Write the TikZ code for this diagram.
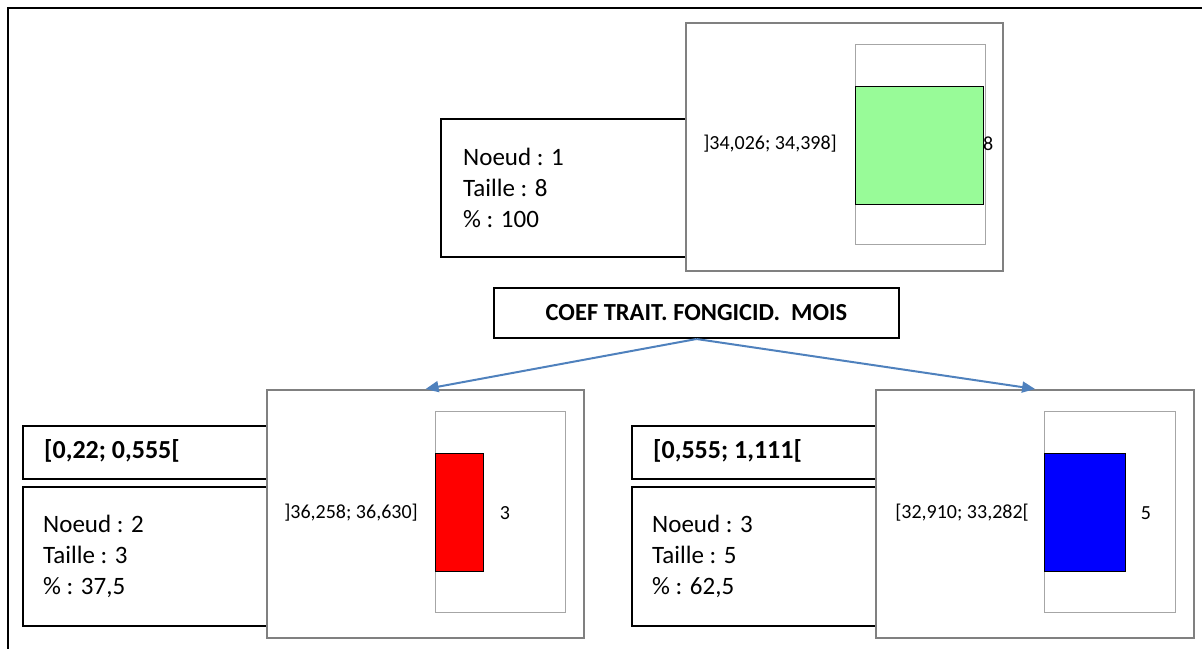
\documentclass[tikz,border=0pt]{standalone}
\usepackage{fontspec}
\setmainfont{Carlito}
\usetikzlibrary{arrows.meta}
\definecolor{arrblue}{RGB}{79,129,189}
\definecolor{framegray}{RGB}{128,128,128}
\definecolor{innergray}{RGB}{166,166,166}
\definecolor{lgreen}{RGB}{152,251,152}
\tikzset{
  infobox/.style={draw=black, line width=2pt, fill=white, anchor=north west, inner sep=0pt},
  chartbox/.style={draw=framegray, line width=2.2pt, fill=white, anchor=north west, inner sep=0pt},
  innerbox/.style={draw=innergray, line width=1pt, fill=white, anchor=north west, inner sep=0pt},
  bar/.style={draw=black, line width=0.8pt, anchor=north west, inner sep=0pt},
  infotext/.style={anchor=west, inner sep=0pt, align=left, font=\fontsize{25}{31}\selectfont},
  headtext/.style={anchor=west, inner sep=0pt, font=\bfseries\fontsize{26}{30}\selectfont},
  smalltext/.style={inner sep=0pt, font=\fontsize{20}{24}\selectfont},
  arr/.style={draw=arrblue, line width=2pt, -{Triangle[length=13pt,width=11pt]}}
}
\begin{document}
\begin{tikzpicture}[x=1pt,y=-1pt]
\useasboundingbox (0,0) rectangle (1202,648);
% outer frame
\draw[line width=2.5pt] (8,660) -- (8,8) -- (1215,8);
% ---------- node 1
\node[infobox, minimum width=260pt, minimum height=138pt] (i1) at (440,118) {};
\node[infotext] (t1) at (463,188) {Noeud : 1\\Taille : 8\\\% : 100};
\node[chartbox, minimum width=317pt, minimum height=248pt] (c1) at (685,22) {};
\node[innerbox, minimum width=130pt, minimum height=200pt] (f1) at (855,44) {};
\node[bar, fill=lgreen, minimum width=128pt, minimum height=118pt] (b1) at (855,86) {};
\node[smalltext] (l1) at (770,144) {]34,026; 34,398]};
\node[smalltext, anchor=west] (v1) at (983,144) {8};
% ---------- split variable
\node[draw=black, line width=2pt, fill=white, minimum width=405pt, minimum height=50pt, inner sep=0pt,
      font=\bfseries\fontsize{24.5}{28}\selectfont] (coef) at (696.5,313) {COEF TRAIT. FONGICID.\ \ MOIS};
% ---------- node 2
\node[infobox, minimum width=260pt, minimum height=53pt] (h2) at (22,425) {};
\node[headtext] (ht2) at (44,451) {[0,22; 0,555[};
\node[infobox, minimum width=260pt, minimum height=139pt] (i2) at (22,486) {};
\node[infotext] (t2) at (43,556) {Noeud : 2\\Taille : 3\\\% : 37,5};
\node[chartbox, minimum width=317pt, minimum height=248pt] (c2) at (266,389) {};
\node[innerbox, minimum width=130pt, minimum height=201pt] (f2) at (435,411) {};
\node[bar, fill=red, minimum width=48pt, minimum height=118pt] (b2) at (435,453) {};
\node[smalltext] (l2) at (351,513) {]36,258; 36,630]};
\node[smalltext] (v2) at (505,513) {3};
% ---------- node 3
\node[infobox, minimum width=260pt, minimum height=53pt] (h3) at (631,425) {};
\node[headtext] (ht3) at (653,451) {[0,555; 1,111[};
\node[infobox, minimum width=260pt, minimum height=139pt] (i3) at (631,486) {};
\node[infotext] (t3) at (652,556) {Noeud : 3\\Taille : 5\\\% : 62,5};
\node[chartbox, minimum width=318pt, minimum height=248pt] (c3) at (875,389) {};
\node[innerbox, minimum width=131pt, minimum height=201pt] (f3) at (1044,411) {};
\node[bar, fill=blue, minimum width=81pt, minimum height=118pt] (b3) at (1044,453) {};
\node[smalltext] (l3) at (962,513) {[32,910; 33,282[};
\node[smalltext] (v3) at (1146,513) {5};
% ---------- connectors
\draw[arr] (coef.south) -- (c2.north);
\draw[arr] (coef.south) -- (c3.north);
\end{tikzpicture}
\end{document}
